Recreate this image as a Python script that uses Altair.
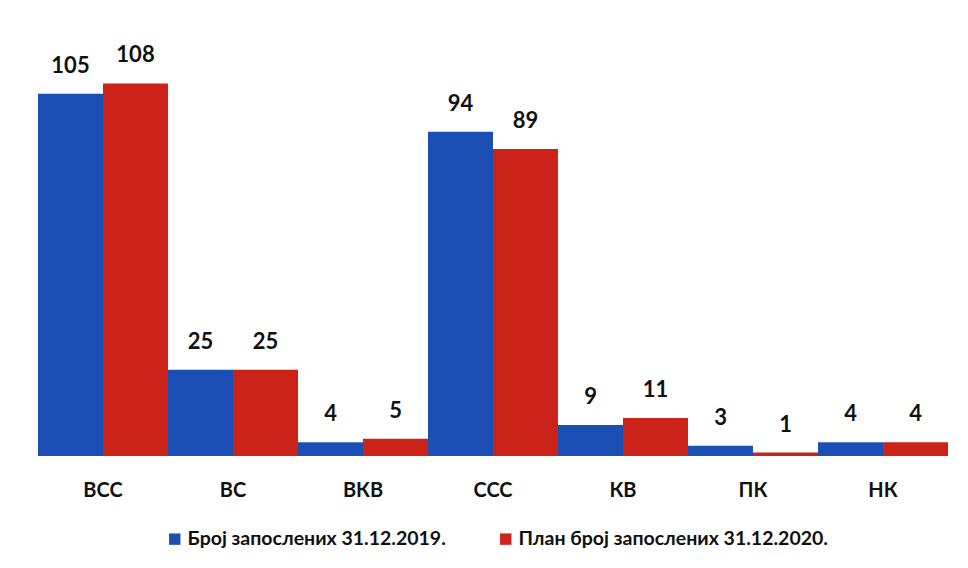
import altair as alt
import pandas as pd

categories = ["ВСС", "ВС", "ВКВ", "ССС", "КВ", "ПК", "НК"]
series = ["Број запослених 31.12.2019.", "План број запослених 31.12.2020."]
values_2019 = [105, 25, 4, 94, 9, 3, 4]
values_2020 = [108, 25, 5, 89, 11, 1, 4]
colors = ["#1c4fb4", "#cb2219"]

rows = []
for c, a, b in zip(categories, values_2019, values_2020):
    rows.append({"cat": c, "series": series[0], "value": a})
    rows.append({"cat": c, "series": series[1], "value": b})
df = pd.DataFrame(rows)

FONT = "Lato"

x = alt.X("cat:N", sort=categories, title=None,
          scale=alt.Scale(paddingInner=0, paddingOuter=0),
          axis=alt.Axis(labelAngle=0, domain=False, ticks=False, labelPadding=24,
                        labelFont=FONT, labelFontSize=20, labelFontWeight="bold",
                        labelColor="#111111"))
xo = alt.XOffset("series:N", sort=series, scale=alt.Scale(paddingInner=0, paddingOuter=0))
y = alt.Y("value:Q", scale=alt.Scale(domain=[0, 120]), axis=None)

bars = alt.Chart(df).mark_bar(size=65).encode(
    x=x, xOffset=xo, y=y,
    color=alt.Color("series:N", sort=series,
                    scale=alt.Scale(domain=series, range=colors),
                    legend=alt.Legend(title=None, orient="none", legendX=127, legendY=487,
                                      direction="horizontal", symbolType="square",
                                      symbolSize=130, labelFont=FONT, labelFontSize=19.5,
                                      labelFontWeight="bold", labelColor="#111111",
                                      labelLimit=500, columnPadding=50, labelOffset=3)),
)

labels = alt.Chart(df).mark_text(baseline="bottom", dy=-16, font=FONT, fontSize=22,
                                  fontWeight="bold", color="#111111").encode(
    x=x, xOffset=xo, y=y, text="value:Q")

chart = (bars + labels).properties(
    width=910, height=414,
    padding={"left": 30, "top": 34, "right": 10, "bottom": 100},
    autosize=alt.AutoSizeParams(type="none"),
    background="white",
).configure_view(stroke=None)

chart.save("out.html", embed_options={"renderer": "svg", "actions": False})
